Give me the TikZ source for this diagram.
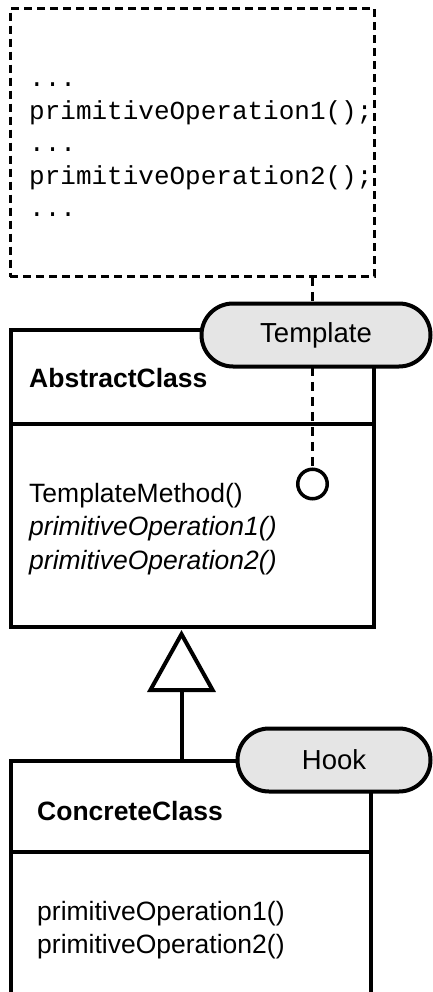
\documentclass[tikz,border=0pt]{standalone}
\usepackage{fontspec}
\setmainfont{Liberation Sans}
\setmonofont{Liberation Mono}
\usetikzlibrary{arrows.meta}
\definecolor{pillgray}{HTML}{E5E5E5}
\tikzset{
  txt/.style={anchor=base west, inner sep=0pt, font=\fontsize{26.5}{32}\selectfont},
  code/.style={txt, font=\fontsize{26}{32}\selectfont\ttfamily},
  classbox/.style={draw, line width=4pt, rectangle, inner sep=0pt, outer sep=0pt},
  codebox/.style={draw, line width=3pt, dash pattern=on 8pt off 5pt, rectangle, inner sep=0pt, outer sep=0pt},
  pill/.style={draw, line width=4pt, fill=pillgray, rectangle, rounded corners=31.5pt, inner sep=0pt, outer sep=0pt, minimum height=63pt, font=\fontsize{27.5}{32}\selectfont},
  divider/.style={line width=4pt},
  noteline/.style={line width=3pt, dash pattern=on 9pt off 6pt},
  gen/.style={line width=4pt, -{Triangle[open, length=62pt, width=68pt]}},
}
\begin{document}
\begin{tikzpicture}[x=1pt, y=-1pt]
\useasboundingbox (0,0) rectangle (433,992);
\clip (0,0) rectangle (433,992);

% code note box
\node[codebox, minimum width=364pt, minimum height=268.5pt] (code) at (192,142.5) {};
\node[code] (c1) at (29,87) {...};
\node[code] (c2) at (29,119.5) {primitiveOperation1();};
\node[code] (c3) at (29,152) {...};
\node[code] (c4) at (29,184.5) {primitiveOperation2();};
\node[code] (c5) at (29,217) {...};

% AbstractClass
\node[classbox, minimum width=363.5pt, minimum height=297pt] (abs) at (192.25,478.5) {};
\draw[divider] (abs.west |- 0,424) -- (abs.east |- 0,424);
\node[txt, font=\fontsize{26.5}{32}\selectfont\bfseries] (absname) at (29,387) {AbstractClass};
\node[txt] (m1) at (29,502) {TemplateMethod()};
\node[txt, font=\fontsize{26.5}{32}\selectfont\itshape] (m2) at (29,535) {primitiveOperation1()};
\node[txt, font=\fontsize{26.5}{32}\selectfont\itshape] (m3) at (29,569) {primitiveOperation2()};

% circle (template method marker)
\node[draw, circle, line width=3.5pt, minimum size=29.5pt, inner sep=0pt] (circ) at (312.5,484) {};

% ConcreteClass
\node[classbox, minimum width=360pt, minimum height=249pt] (conc) at (190.5,885.5) {};
\draw[divider] (conc.west |- 0,852) -- (conc.east |- 0,852);
\node[txt, font=\fontsize{26.5}{32}\selectfont\bfseries] (concname) at (37,820) {ConcreteClass};
\node[txt] (n1) at (37,920) {primitiveOperation1()};
\node[txt] (n2) at (37,953) {primitiveOperation2()};

% generalization
\coordinate (genx) at (181.5,0);
\draw[gen] (conc.north -| genx) -- ([yshift=-3pt]abs.south -| genx);

% note connector
\draw[noteline] (code.south -| circ) -- (circ.north);

% labels
\node[pill, minimum width=229pt] (tpl) at (316,335) {Template};
\node[pill, minimum width=193pt] (hook) at (334,760) {Hook};
\end{tikzpicture}
\end{document}
